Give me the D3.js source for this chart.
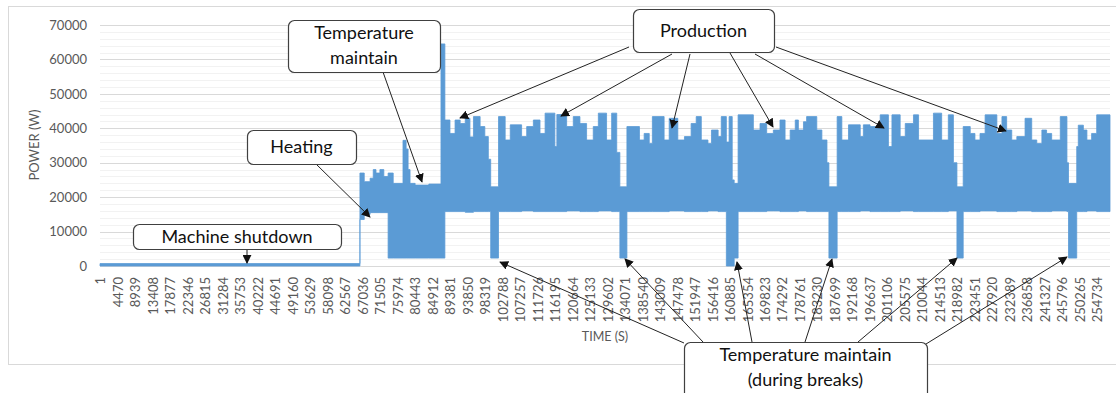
<!DOCTYPE html>
<html>
<head>
<meta charset="utf-8">
<script src="https://cdn.jsdelivr.net/npm/d3@7"></script>
<style>
body{margin:0;background:#fff;}
text{font-family:Lato,"Open Sans",sans-serif;}
</style>
</head>
<body>
<div id="chart"></div>
<script>
// time (s) where each level starts, with the top and bottom of the power band (W)
var timeS = [1,66400,67500,69000,69800,70500,71500,72500,73600,74900,77400,78200,78700,79200,80500,84000,87100,
  88100,89400,90700,92000,93300,94500,95400,97100,98300,99200,99800,
  101800,103500,104800,107700,109000,110700,112400,113700,116200,116700,119200,120900,122600,124300,126000,127300,129400,130700,132000,132800,
  134600,137800,139000,140300,141100,144100,145400,147600,149300,151000,152300,153600,155300,156200,157900,158700,160000,160700,161500,162000,
  163000,166900,168600,170300,172000,173700,175000,176300,177600,178400,179700,180500,183100,184400,185700,186200,
  188300,189500,191200,194200,195000,196700,199300,201400,202300,204400,205700,207800,209100,212900,215000,216700,218000,218900,
  220500,222300,223500,224800,226100,229100,230400,231600,232900,234200,236300,238000,239300,240600,241800,243100,245300,247000,247400,
  249500,249900,251200,252100,253300,254600,258000];
var powerMax = [700,27000,24500,25500,28000,27000,28000,26000,27000,24000,36500,34000,28000,24000,23500,23800,64500,
  42400,38500,42400,41400,42900,37500,43400,40500,37600,31000,23000,
  43400,36600,41000,37600,40500,42400,38500,44400,34700,44000,40500,43400,41400,36600,40500,44400,36600,44400,33000,23000,
  40500,36600,38500,35600,43400,36600,42900,36600,37600,41400,43400,36600,35600,39500,37600,43400,36000,43400,25000,24000,
  43900,39500,41400,38500,39500,42400,36600,39500,42400,39500,41900,43400,39500,36600,30000,23000,
  43400,36600,41000,37600,41000,40500,43900,34700,43900,37600,41400,43900,36600,44400,36600,43900,30000,23000,
  40500,38500,36600,38500,43900,38500,43400,39500,36600,37600,42900,36600,35600,39500,38500,36600,43400,30000,24000,
  34700,40900,39500,36600,38500,43900,43900];
var powerMin = [0,13500,15000,15500,15500,15500,15500,15500,2300,2300,2300,2300,2300,2300,2300,2300,2300,
  15800,15800,15800,15800,15600,15600,15800,15800,15800,15800,2300,
  15800,15800,15800,16000,16000,15800,15800,15800,15800,15800,16000,16000,15800,15800,15800,16000,16000,15800,15800,2300,
  15800,15800,15800,15800,15800,15800,16000,16000,15800,15800,15800,15800,16000,16000,15800,15800,0,0,0,2300,
  15800,15800,15800,16000,16000,15800,15800,15800,15800,16000,16000,15800,15800,15800,15800,2300,
  15800,15800,15800,16000,16000,15800,15800,15800,15800,16000,16000,15800,15800,15800,15800,16000,16000,2300,
  15800,15800,15800,16000,16000,15800,15800,15800,15800,16000,16000,15800,15800,15800,15800,16000,16000,15800,2300,
  15800,15800,15800,16000,16000,15800,15800];

var xTicks = [1,4470,8939,13408,17877,22346,26815,31284,35753,40222,44691,49160,53629,58098,62567,67036,71505,75974,
  80443,84912,89381,93850,98319,102788,107257,111726,116195,120664,125133,129602,134071,138540,143009,147478,151947,
  156416,160885,165354,169823,174292,178761,183230,187699,192168,196637,201106,205575,210044,214513,218982,223451,
  227920,232389,236858,241327,245796,250265,254734];
var yTicks = [0,10000,20000,30000,40000,50000,60000,70000];
var yMinor = [2000,4000,6000,8000,12000,14000,16000,18000,22000,24000,26000,28000,32000,34000,36000,38000,
  42000,44000,46000,48000,52000,54000,56000,58000,62000,64000,66000,68000];

// callout boxes and where their arrows end
var boxLabels = [
  {lines:["Temperature","maintain"], x0:288, y0:20, x1:440, y1:72},
  {lines:["Heating"], x0:247, y0:130, x1:356, y1:164},
  {lines:["Machine shutdown"], x0:133, y0:224, x1:341, y1:249},
  {lines:["Production"], x0:633, y0:9, x1:774, y1:52},
  {lines:["Temperature maintain","(during breaks)"], x0:684, y0:342, x1:927, y1:400}
];
var arrows = [
  [383,72,422,182],[316,164,370,217],[247,249,247,263],
  [629,47,460,118],[672,54,561,116],[690,54,672,128],[730,53,773,127],[755,54,884,128],[776,47,1006,131],
  [684,343,500,262],[703,342,625,259],[752,342,737,262],[805,342,832,259],[858,342,957,258],[926,344,1067,257]
];

var W = 1116, H = 393;
var svg = d3.select("#chart").append("svg").attr("width",W).attr("height",H);

svg.append("rect").attr("x",8.5).attr("y",6.5).attr("width",1130).attr("height",358)
  .attr("fill","#fff").attr("stroke","#d9d9d9");

var x = d3.scaleLinear().domain([1,258000]).range([100,1110]);
var y = d3.scaleLinear().domain([0,70000]).range([266,25]);

// grid
svg.append("g").selectAll("line").data(yMinor).enter().append("line")
  .attr("x1",100).attr("x2",1110)
  .attr("y1",function(d){return Math.round(y(d))+0.5;}).attr("y2",function(d){return Math.round(y(d))+0.5;})
  .attr("stroke","#f2f2f2");
svg.append("g").selectAll("line").data(yTicks).enter().append("line")
  .attr("x1",100).attr("x2",1110)
  .attr("y1",function(d){return Math.round(y(d))+0.5;}).attr("y2",function(d){return Math.round(y(d))+0.5;})
  .attr("stroke","#d9d9d9");

var dataDone = timeS.map(function(t,i){ return {t:t, hi:powerMax[i], lo:powerMin[i]}; });

var area = d3.area()
  .curve(d3.curveStepAfter)
  .x(function(d){ return x(d.t); })
  .y0(function(d){ return y(d.lo); })
  .y1(function(d){ return y(d.hi); });

svg.append("path").datum(dataDone).attr("fill","#5b9bd5").attr("stroke","#5b9bd5").attr("stroke-width",0.8).attr("d",area);

// axes
var xAxis = svg.append("g").attr("transform","translate(0,266)")
  .call(d3.axisBottom(x).tickValues(xTicks).tickSize(0).tickFormat(function(d){return d;}));
xAxis.select(".domain").remove();
xAxis.selectAll(".tick text")
  .attr("transform","rotate(-90)").attr("text-anchor","end")
  .attr("x",-11).attr("y",0).attr("dy","0.36em")
  .attr("fill","#595959").style("font-size","13px").style("font-family","Lato");

var yAxis = svg.append("g").attr("transform","translate(100,0)")
  .call(d3.axisLeft(y).tickValues(yTicks).tickSize(0).tickPadding(13).tickFormat(function(d){return d;}));
yAxis.select(".domain").remove();
yAxis.selectAll(".tick text").attr("fill","#595959").style("font-size","13px").style("font-family","Lato");

svg.append("text").attr("transform","translate(39,145) rotate(-90)").attr("text-anchor","middle")
  .attr("fill","#595959").style("font-size","13px").text("POWER (W)");
svg.append("text").attr("x",605).attr("y",341).attr("text-anchor","middle")
  .attr("fill","#595959").style("font-size","12.5px").text("TIME (S)");

// arrows
svg.append("defs").append("marker").attr("id","head")
  .attr("viewBox","0 0 10 10").attr("refX",9).attr("refY",5)
  .attr("markerWidth",9).attr("markerHeight",9).attr("markerUnits","userSpaceOnUse")
  .attr("orient","auto")
  .append("path").attr("d","M0,0L10,5L0,10z").attr("fill","#111");

svg.append("g").selectAll("line").data(arrows).enter().append("line")
  .attr("x1",function(d){return d[0];}).attr("y1",function(d){return d[1];})
  .attr("x2",function(d){return d[2];}).attr("y2",function(d){return d[3];})
  .attr("stroke","#222").attr("stroke-width",1).attr("marker-end","url(#head)");

// boxes
var gb = svg.append("g").selectAll("g").data(boxLabels).enter().append("g");
gb.append("rect")
  .attr("x",function(d){return d.x0+0.5;}).attr("y",function(d){return d.y0+0.5;})
  .attr("width",function(d){return d.x1-d.x0;}).attr("height",function(d){return d.y1-d.y0;})
  .attr("rx",6).attr("fill","#fff").attr("stroke","#404040").attr("stroke-width",1.2);
gb.each(function(d){
  var g = d3.select(this);
  var cx = (d.x0+d.x1)/2;
  var top = d.lines.length==1 ? (d.y0+d.y1)/2 : d.y0+13;
  d.lines.forEach(function(s,i){
    g.append("text").attr("x",cx).attr("y",top+i*25).attr("dy","0.35em")
      .attr("text-anchor","middle").attr("fill","#111").style("font-size","18px").text(s);
  });
});
</script>
</body>
</html>
